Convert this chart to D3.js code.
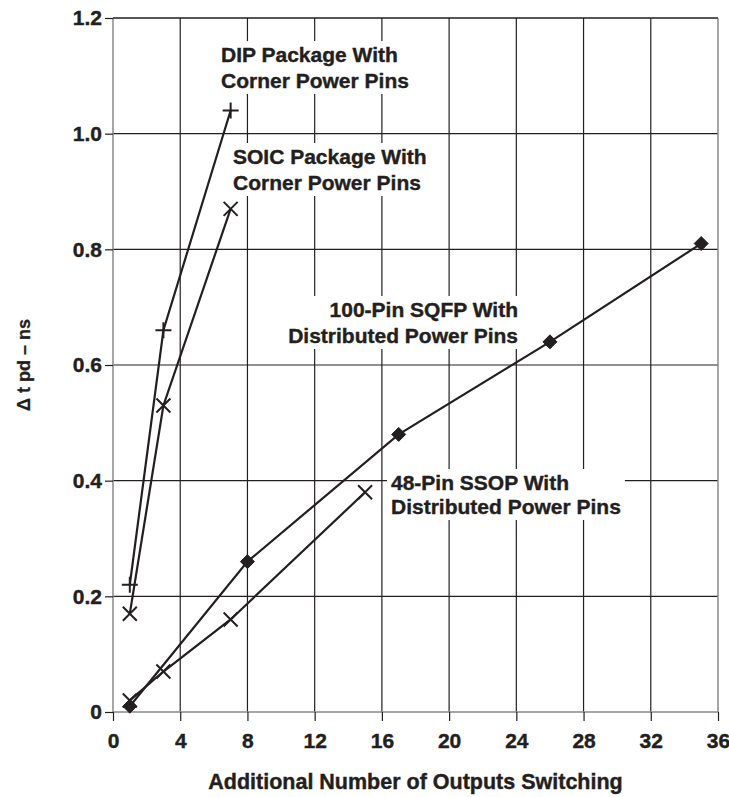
<!DOCTYPE html>
<html>
<head>
<meta charset="utf-8">
<script src="https://cdn.jsdelivr.net/npm/d3@7"></script>
<style>
  body { margin: 0; background: #fff; }
  text { font-family: "Liberation Sans", Arial, sans-serif; font-weight: bold; fill: #231f20; }
</style>
</head>
<body>
<div id="chart"></div>
<script>
var xTicks = [0, 4, 8, 12, 16, 20, 24, 28, 32, 36]
var yTicks = [0, 0.2, 0.4, 0.6, 0.8, 1.0, 1.2]
var yTickLabels = ['0', '0.2', '0.4', '0.6', '0.8', '1.0', '1.2']

var dipX = [1, 3, 7]
var dipY = [0.22, 0.66, 1.04]
var soicX = [1, 3, 7]
var soicY = [0.17, 0.53, 0.87]
var sqfpX = [1, 8, 17, 26, 35]
var sqfpY = [0.01, 0.26, 0.48, 0.64, 0.81]
var ssopX = [1, 3, 7, 15]
var ssopY = [0.02, 0.07, 0.16, 0.38]

var INK = '#231f20'
var WIDTH = 729
var HEIGHT = 797
var margin = { left: 113, right: 11, top: 18, bottom: 85 }

var svg = d3.select('#chart').append('svg')
  .attr('width', WIDTH)
  .attr('height', HEIGHT)

var x = d3.scaleLinear().domain([0, 36]).range([margin.left, WIDTH - margin.right])
var y = d3.scaleLinear().domain([0, 1.2]).range([HEIGHT - margin.bottom, margin.top])

// grid
svg.append('g').selectAll('line').data(xTicks.slice(1, -1)).enter().append('line')
  .attr('x1', x).attr('x2', x)
  .attr('y1', y(0)).attr('y2', y(1.2))
  .attr('stroke', INK).attr('stroke-width', 1.2)
svg.append('g').selectAll('line').data(yTicks.slice(1)).enter().append('line')
  .attr('y1', y).attr('y2', y)
  .attr('x1', x(0)).attr('x2', x(36))
  .attr('stroke', INK).attr('stroke-width', 1.2)

// frame: left, bottom and right are grey
svg.append('line').attr('x1', x(0)).attr('x2', x(0)).attr('y1', y(0)).attr('y2', y(1.2))
  .attr('stroke', '#8a8a8a').attr('stroke-width', 1.5)
svg.append('line').attr('x1', x(36)).attr('x2', x(36)).attr('y1', y(0)).attr('y2', y(1.2))
  .attr('stroke', '#8a8a8a').attr('stroke-width', 1.5)
svg.append('line').attr('x1', x(0)).attr('x2', x(36)).attr('y1', y(0)).attr('y2', y(0))
  .attr('stroke', '#8a8a8a').attr('stroke-width', 1.5)

// axes
var xAxis = d3.axisBottom(x).tickValues(xTicks).tickSize(9).tickPadding(8).tickFormat(d3.format('d'))
var gx = svg.append('g').attr('transform', 'translate(0,' + y(0) + ')').call(xAxis)
var yAxis = d3.axisLeft(y).tickValues(yTicks).tickSize(8).tickPadding(3)
  .tickFormat(function (d, i) { return yTickLabels[i] })
var gy = svg.append('g').attr('transform', 'translate(' + x(0) + ',0)').call(yAxis)

;[gx, gy].forEach(function (g) {
  g.select('.domain').remove()
  g.selectAll('.tick line').attr('stroke', INK).attr('stroke-width', 1.2)
  g.selectAll('.tick text')
    .attr('fill', INK)
    .attr('stroke', INK).attr('stroke-width', 0.4)
    .style('font-family', '"Liberation Sans", Arial, sans-serif')
    .style('font-weight', 'bold')
    .style('font-size', '21px')
})
gx.selectAll('.tick text').attr('dy', '0.9em')
svg.append('line').attr('x1', x(0)).attr('x2', x(36)).attr('y1', y(1.2)).attr('y2', y(1.2))
  .attr('stroke', INK).attr('stroke-width', 1.2)

// axis titles
svg.append('text')
  .attr('x', (x(0) + x(36)) / 2).attr('y', 789)
  .attr('text-anchor', 'middle')
  .attr('stroke', INK).attr('stroke-width', 0.4)
  .style('font-size', '21.5px')
  .text('Additional Number of Outputs Switching')

svg.append('text')
  .attr('transform', 'translate(30,' + y(0.6) + ') rotate(-90)')
  .attr('text-anchor', 'middle')
  .attr('stroke', INK).attr('stroke-width', 0.3)
  .style('font-size', '18px')
  .text('\u0394 t pd \u2013 ns')

// series lines
var line = d3.line()
  .x(function (d) { return x(d[0]) })
  .y(function (d) { return y(d[1]) })

function pairs (xs, ys) {
  return xs.map(function (v, i) { return [v, ys[i]] })
}

var series = [
  { pts: pairs(dipX, dipY), marker: 'plus' },
  { pts: pairs(soicX, soicY), marker: 'cross' },
  { pts: pairs(sqfpX, sqfpY), marker: 'diamond' },
  { pts: pairs(ssopX, ssopY), marker: 'cross' }
]

// curve labels, white box behind text hides the grid
var labels = [
  { lines: ['DIP Package With', 'Corner Power Pins'], x: 221, y: 62, dy: 26, anchor: 'start' },
  { lines: ['SOIC Package With', 'Corner Power Pins'], x: 233, y: 164, dy: 26, anchor: 'start' },
  { lines: ['100-Pin SQFP With', 'Distributed Power Pins'], x: 518, y: 317, dy: 26, anchor: 'end' },
  { lines: ['48-Pin SSOP With', 'Distributed Power Pins'], x: 391, y: 490, dy: 24, anchor: 'start' }
]

labels.forEach(function (l) {
  var g = svg.append('g')
  var rect = g.append('rect').attr('fill', '#fff')
  var t = g.append('text')
    .attr('text-anchor', l.anchor)
    .attr('stroke', INK).attr('stroke-width', 0.4)
    .style('font-size', '21px')
  l.lines.forEach(function (s, i) {
    t.append('tspan').attr('x', l.x).attr('y', l.y + i * l.dy).text(s)
  })
  var b = t.node().getBBox()
  rect.attr('x', b.x - 4).attr('y', b.y - 2).attr('width', b.width + 8).attr('height', b.height + 4)
})

series.forEach(function (s) {
  svg.append('path')
    .attr('d', line(s.pts))
    .attr('fill', 'none')
    .attr('stroke', INK)
    .attr('stroke-width', 2.2)

  var m = svg.append('g').selectAll('path').data(s.pts).enter().append('path')
    .attr('transform', function (d) { return 'translate(' + x(d[0]) + ',' + y(d[1]) + ')' })
  if (s.marker === 'plus') {
    m.attr('d', 'M-8,0H8M0,-8V8').attr('stroke', INK).attr('stroke-width', 2).attr('fill', 'none')
  } else if (s.marker === 'cross') {
    m.attr('d', 'M-7,-7L7,7M-7,7L7,-7').attr('stroke', INK).attr('stroke-width', 2).attr('fill', 'none')
  } else {
    m.attr('d', 'M0,-7L7,0L0,7L-7,0Z').attr('fill', INK).attr('stroke', INK).attr('stroke-width', 1)
  }
})
</script>
</body>
</html>
